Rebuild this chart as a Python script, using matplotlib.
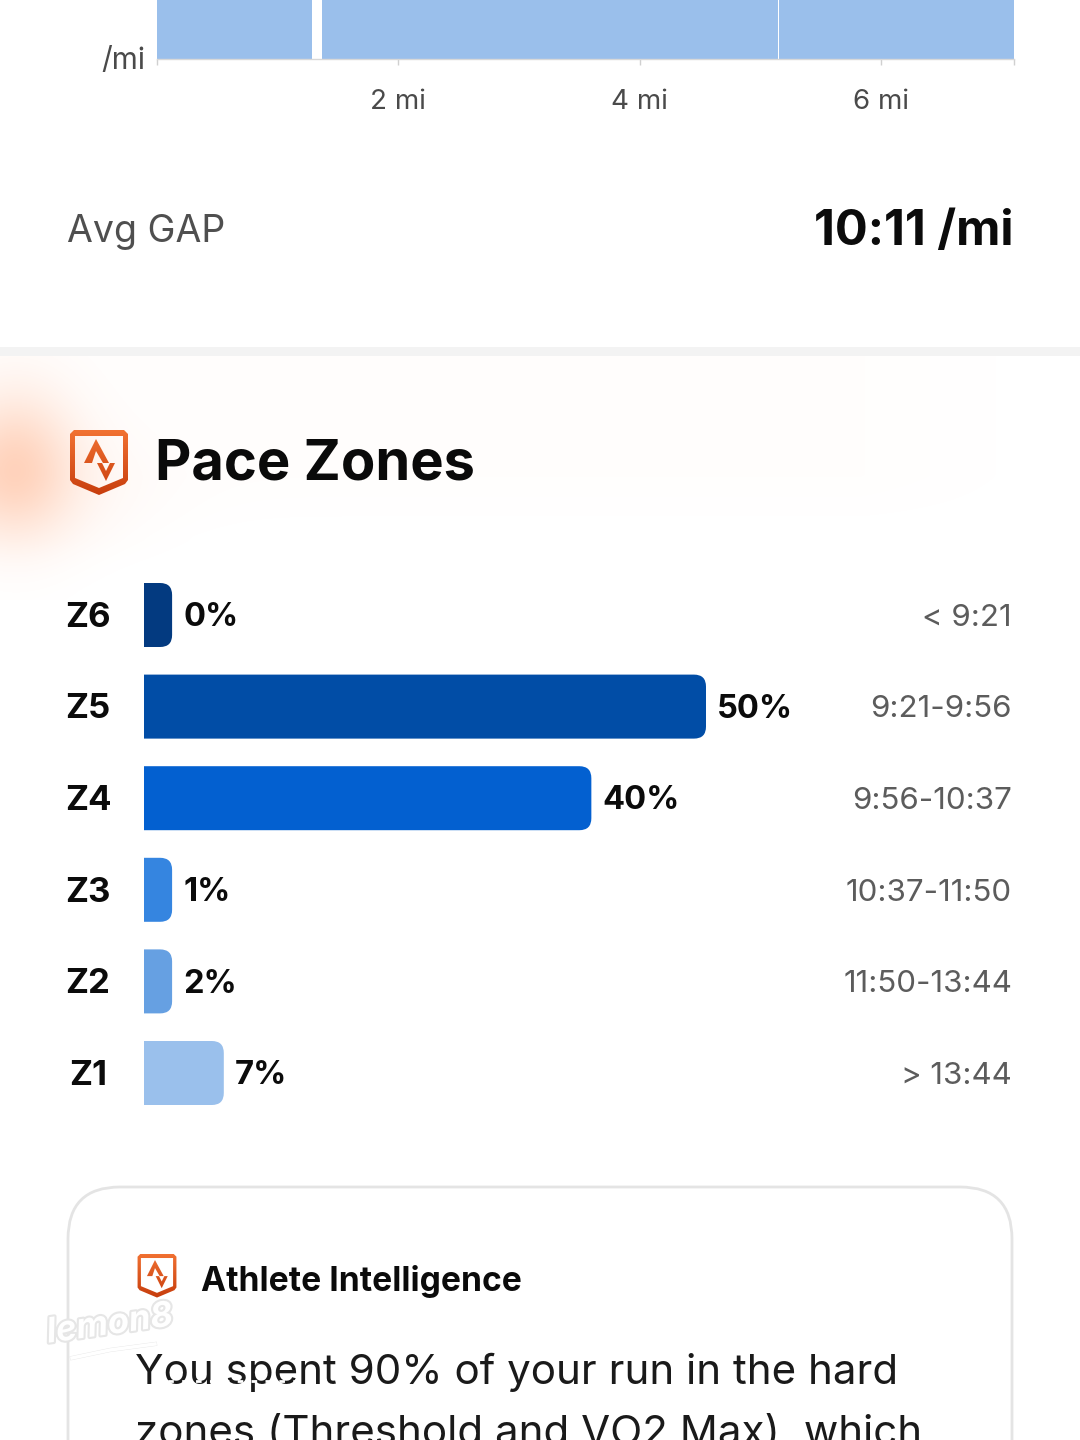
import numpy as np
import matplotlib
matplotlib.use('Agg')
import matplotlib.pyplot as plt
from matplotlib.patches import FancyBboxPatch, PathPatch, Rectangle
from matplotlib.path import Path
import matplotlib.patheffects as pe

plt.rcParams['font.family'] = ['Inter', 'DejaVu Sans']

# 配速分区
zones = ['Z6', 'Z5', 'Z4', 'Z3', 'Z2', 'Z1']
zone_pct = [0, 50, 39.8, 1, 2, 7.1]
zone_labels = ['0%', '50%', '40%', '1%', '2%', '7%']
zone_ranges = ['< 9:21', '9:21-9:56', '9:56-10:37', '10:37-11:50', '11:50-13:44', '> 13:44']
zone_colors = ['#033a80', '#014da6', '#0360d0', '#3585e0', '#66a0e2', '#9ac0ec']

# 顶部被裁掉的配速图
split_start = [0.0, 1.37, 5.157]
split_end = [1.29, 5.15, 7.1]
split_pace = [1.0, 1.0, 1.0]
mile_ticks = [2, 4, 6]
mile_labels = ['2 mi', '4 mi', '6 mi']

W, H = 1080, 1440
MIN_BAR = 2.5  # 0%的条也有最小宽度
PX_PER_PCT = 11.24
ROW = 91.6

fig = plt.figure(figsize=(W / 100, H / 100), dpi=100, facecolor='white')


def px_axes(left, top, right, bottom, **kw):
    return fig.add_axes([left / W, 1 - bottom / H, (right - left) / W, (bottom - top) / H], **kw)


# 画布，单位是像素
bg = px_axes(0, 0, W, H)
bg.set_xlim(0, W)
bg.set_ylim(H, 0)
bg.axis('off')

# 标题后面的浅橙色光晕
xx, yy = np.meshgrid(np.arange(0, W, 2), np.arange(356, 600, 2))
glow = np.exp(-(((xx - 15) / 58.0) ** 2 + ((yy - 462) / 72.0) ** 2))
tail = np.exp(-((xx / 120.0) ** 2 + ((yy - 490) / 60.0) ** 2)) * np.clip((590 - yy) / 50.0, 0, 1)
wash = 0.012 * np.clip((1060 - xx) / 200.0, 0, 1) * np.clip((535 - yy) / 60.0, 0, 1)
alpha = np.clip(0.3 * glow + 0.09 * tail + wash, 0, 1)
rgba = np.zeros(xx.shape + (4,))
rgba[..., 0] = 1.0
rgba[..., 1] = 0.55
rgba[..., 2] = 0.32
rgba[..., 3] = alpha
bg.imshow(rgba, extent=(0, W, 600, 356), aspect='auto', zorder=0, interpolation='bilinear')
bg.set_xlim(0, W)
bg.set_ylim(H, 0)

# 分隔带
bg.add_patch(Rectangle((0, 347), W, 9, fc='#f3f3f3', ec='none', zorder=1))


def draw_icon(cx, top, s):
    # 盾牌图标，宽度约58*s
    def pts(lst):
        return [(cx + x * s, top + y * s) for x, y in lst]

    outer = [(-25, 0), (25, 0), (29, 4), (29, 50), (26, 54), (0, 65), (-26, 54), (-29, 50), (-29, 4), (-25, 0)]
    inner = [(-24, 6), (-24, 48), (0, 58), (24, 48), (24, 6), (-24, 6)]
    up = [(-15, 33), (-3, 9), (10, 33), (4, 33), (-3, 21), (-7, 33), (-15, 33)]
    down = [(-2, 33), (3, 33), (7, 41), (11, 33), (16, 33), (7, 51), (-2, 33)]
    verts = pts(outer) + pts(inner) + pts(up) + pts(down)
    codes = []
    for part in (outer, inner, up, down):
        codes += [Path.MOVETO] + [Path.LINETO] * (len(part) - 2) + [Path.CLOSEPOLY]
    path = PathPatch(Path(verts, codes), transform=bg.transData, fc='none', ec='none')
    bg.add_patch(path)
    grad = np.linspace(0, 1, 64).reshape(-1, 1)
    c0 = np.array([0.95, 0.45, 0.20])
    c1 = np.array([0.78, 0.24, 0.05])
    img = (c0 + (c1 - c0) * grad[..., None]).reshape(64, 1, 3)
    im = bg.imshow(img, extent=(cx - 30 * s, cx + 30 * s, top + 66 * s, top - 1), aspect='auto', zorder=3)
    im.set_clip_path(path)
    bg.set_xlim(0, W)
    bg.set_ylim(H, 0)


draw_icon(99, 430, 1.0)
draw_icon(157, 1254, 0.67)

# 顶部配速图
top_ax = px_axes(156.5, 0, 1014, 58.5)
top_ax.bar(split_start, split_pace, width=np.array(split_end) - np.array(split_start),
           align='edge', color='#9abfeb', linewidth=0)
top_ax.set_xlim(0, 7.1)
top_ax.set_ylim(0, 0.98)
top_ax.patch.set_alpha(0)
for s in ['top', 'right', 'left']:
    top_ax.spines[s].set_visible(False)
top_ax.spines['bottom'].set_color('#d8d8d8')
top_ax.spines['bottom'].set_linewidth(1)
top_ax.set_yticks([])
top_ax.set_xticks([0] + mile_ticks + [7.1])
top_ax.set_xticklabels([''] + mile_labels + [''], fontsize=20, color='#4a4a4a')
top_ax.tick_params(axis='x', length=4, width=1, color='#d0d0d0', pad=18)

bg.text(145, 61, '/mi', ha='right', va='center', fontsize=21.5, color='#4a4a4a', zorder=5)

# Avg GAP
bg.text(67, 232, 'Avg GAP', ha='left', va='center', fontsize=27, color='#4f4f4f', zorder=5)
bg.text(1013, 232, '10:11 /mi', ha='right', va='center', fontsize=35, fontweight='bold', color='#0b0b0b', zorder=5)

# 标题
bg.text(155, 465, 'Pace Zones', ha='left', va='center', fontsize=40.4, fontweight='bold', color='#0a0a0a', zorder=5)

# 分区条
zone_top = 615 - ROW / 2
bar_ax = px_axes(144, zone_top, W, zone_top + ROW * len(zones))
bar_ax.set_xlim(0, (W - 144) / PX_PER_PCT)
bar_ax.set_ylim(len(zones) - 0.5, -0.5)
bar_ax.axis('off')
bar_ax.patch.set_alpha(0)

bar_h = 64 / ROW
rx = 12 / PX_PER_PCT
ry = 12 / ROW
for i, pct in enumerate(zone_pct):
    x1 = max(pct, MIN_BAR)
    y0, y1 = i - bar_h / 2, i + bar_h / 2
    verts = [(0, y0), (x1 - rx, y0), (x1, y0), (x1, y0 + ry), (x1, y1 - ry), (x1, y1), (x1 - rx, y1), (0, y1), (0, y0)]
    codes = [Path.MOVETO, Path.LINETO, Path.CURVE3, Path.CURVE3, Path.LINETO, Path.CURVE3, Path.CURVE3,
             Path.LINETO, Path.CLOSEPOLY]
    bar_ax.add_patch(PathPatch(Path(verts, codes), fc=zone_colors[i], ec='none'))
    bar_ax.annotate(zone_labels[i], (x1, i), xytext=(8, -2), textcoords='offset points', ha='left', va='center',
                    fontsize=23.5, fontweight='bold', color='#0b0b0b')
    bar_ax.annotate(zones[i], (0, i), xytext=(-40.3, -2), textcoords='offset points', ha='center', va='center',
                    fontsize=25, fontweight='bold', color='#0b0b0b', annotation_clip=False)
    bar_ax.annotate(zone_ranges[i], (1, i), xycoords=('axes fraction', 'data'), xytext=(-49, -2),
                    textcoords='offset points', ha='right', va='center', fontsize=22.5, color='#5c5c5c')

# 下面的卡片
card = FancyBboxPatch((68, 1187), 944, 400, boxstyle='round,pad=0,rounding_size=52', fc='white',
                      ec='#e4e4e4', lw=2, zorder=2)
bg.add_patch(card)
bg.text(201, 1281, 'Athlete Intelligence', ha='left', va='center', fontsize=24.2, fontweight='bold',
        color='#0b0b0b', zorder=5)
bg.text(135, 1372, 'You spent 90% of your run in the hard', ha='left', va='center', fontsize=30.3,
        color='#1a1a1a', zorder=5)
bg.text(135, 1434, 'zones (Threshold and VO2 Max), which', ha='left', va='center', fontsize=30.3,
        color='#1a1a1a', zorder=5)

# 水印
stroke = [pe.withStroke(linewidth=3, foreground='#e6e6e6')]
bg.text(110, 1325, 'lemon8', ha='center', va='center', fontsize=25, style='italic', fontweight='bold',
        color='white', rotation=8, zorder=6, path_effects=stroke)
bg.plot([72, 110, 155], [1358, 1350, 1344], color='white', lw=2.5, zorder=6, path_effects=stroke)
bg.plot([140, 300], [1381, 1381], color='white', lw=2, ls=(0, (2, 3)), zorder=6)

fig.savefig('out.png', dpi=100, facecolor='white')
